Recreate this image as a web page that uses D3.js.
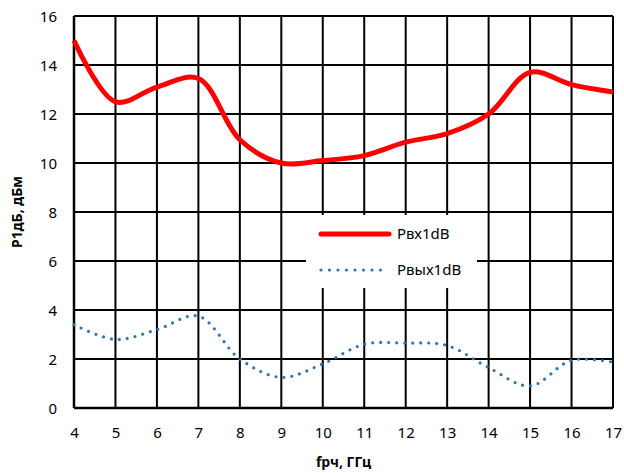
<!DOCTYPE html>
<html>
<head>
<meta charset="utf-8">
<script src="https://cdn.jsdelivr.net/npm/d3@7"></script>
<style>
body { margin: 0; background: #fff; }
</style>
</head>
<body>
<div id="chart"></div>
<script>
// frequency, GHz
var freq = [4, 5, 6, 7, 8, 9, 10, 11, 12, 13, 14, 15, 16, 17];
// input P1dB, dBm
var pIn = [15.0, 12.5, 13.1, 13.45, 10.95, 10.0, 10.1, 10.3, 10.85, 11.2, 12.0, 13.7, 13.2, 12.9];
// output P1dB, dBm
var pOut = [3.4, 2.8, 3.2, 3.75, 2.0, 1.25, 1.8, 2.6, 2.65, 2.55, 1.65, 0.9, 1.95, 1.87];
var xTicks = [4, 5, 6, 7, 8, 9, 10, 11, 12, 13, 14, 15, 16, 17];
var yTicks = [0, 2, 4, 6, 8, 10, 12, 14, 16];
var seriesNames = ["Рвх1dB", "Рвых1dB"];

function init(){

    var w = 624;
    var h = 473;
    var margin = {top: 16, right: 11, bottom: 65, left: 74};
    var font = "'Noto Sans', 'Open Sans', sans-serif";

    var xScale = d3.scaleLinear()
                    .domain([4, 17])
                    .range([margin.left, w - margin.right]);
    var yScale = d3.scaleLinear()
                    .domain([0, 16])
                    .range([h - margin.bottom, margin.top]);

    var svg = d3.select("#chart")
                .append("svg")
                .attr("width", w)
                .attr("height", h);

    //grid lines
    svg.append("g")
        .selectAll("line.v")
        .data(xTicks)
        .enter()
        .append("line")
        .attr("x1", function(d){ return xScale(d); })
        .attr("x2", function(d){ return xScale(d); })
        .attr("y1", yScale(0))
        .attr("y2", yScale(16))
        .attr("stroke", "#000")
        .attr("stroke-width", 2);

    svg.append("g")
        .selectAll("line.h")
        .data(yTicks)
        .enter()
        .append("line")
        .attr("x1", xScale(4))
        .attr("x2", xScale(17))
        .attr("y1", function(d){ return yScale(d); })
        .attr("y2", function(d){ return yScale(d); })
        .attr("stroke", "#000")
        .attr("stroke-width", 2);

    //axes (labels only, lines drawn above)
    var xAxis = d3.axisBottom(xScale).tickValues(xTicks).tickSize(0).tickPadding(0);
    var yAxis = d3.axisLeft(yScale).tickValues(yTicks).tickSize(0).tickPadding(0);

    var gx = svg.append("g")
        .attr("transform", "translate(0," + yScale(0) + ")")
        .call(xAxis);
    gx.select(".domain").remove();
    gx.selectAll("text")
        .attr("y", 30)
        .attr("dy", 0)
        .attr("font-family", font)
        .attr("font-size", "15px")
        .attr("fill", "#000");

    var gy = svg.append("g")
        .attr("transform", "translate(" + xScale(4) + ",0)")
        .call(yAxis);
    gy.select(".domain").remove();
    gy.selectAll("text")
        .attr("x", -17)
        .attr("dy", "0.35em")
        .attr("font-family", font)
        .attr("font-size", "15px")
        .attr("fill", "#000");

    //thicker left and bottom axis lines
    svg.append("line")
        .attr("x1", xScale(4)).attr("x2", xScale(4))
        .attr("y1", yScale(0)).attr("y2", yScale(16))
        .attr("stroke", "#000").attr("stroke-width", 2.5);
    svg.append("line")
        .attr("x1", xScale(4)).attr("x2", xScale(17))
        .attr("y1", yScale(0)).attr("y2", yScale(0))
        .attr("stroke", "#000").attr("stroke-width", 2.5);

    //legend box (covers the grid)
    svg.append("rect")
        .attr("x", 306)
        .attr("y", 215)
        .attr("width", 171)
        .attr("height", 73)
        .attr("fill", "#fff");

    var line = d3.line()
        .x(function(d){ return xScale(d[0]); })
        .y(function(d){ return yScale(d[1]); })
        .curve(d3.curveCatmullRom);

    svg.append("path")
        .datum(d3.zip(freq, pOut))
        .attr("d", line)
        .attr("fill", "none")
        .attr("stroke", "#2e75b6")
        .attr("stroke-width", 3.2)
        .attr("stroke-linecap", "round")
        .attr("stroke-dasharray", "0,8");

    svg.append("path")
        .datum(d3.zip(freq, pIn))
        .attr("d", line)
        .attr("fill", "none")
        .attr("stroke", "#ff0000")
        .attr("stroke-width", 5)
        .attr("stroke-linejoin", "round");

    //legend
    var legend = svg.append("g");
    legend.append("line")
        .attr("x1", 321).attr("x2", 389)
        .attr("y1", 234).attr("y2", 234)
        .attr("stroke", "#ff0000")
        .attr("stroke-width", 5)
        .attr("stroke-linecap", "round");
    legend.append("line")
        .attr("x1", 321).attr("x2", 389)
        .attr("y1", 270).attr("y2", 270)
        .attr("stroke", "#2e75b6")
        .attr("stroke-width", 3.2)
        .attr("stroke-linecap", "round")
        .attr("stroke-dasharray", "0,8.5");
    legend.selectAll("text")
        .data(seriesNames)
        .enter()
        .append("text")
        .attr("x", 397)
        .attr("y", function(d, i){ return 234 + i * 36; })
        .attr("dy", "0.35em")
        .attr("font-family", font)
        .attr("font-size", "15px")
        .attr("fill", "#000")
        .text(function(d){ return d; });

    //axis titles
    svg.append("text")
        .attr("x", (xScale(4) + xScale(17)) / 2)
        .attr("y", 467)
        .attr("text-anchor", "middle")
        .attr("font-family", font)
        .attr("font-size", "14px")
        .attr("font-weight", "bold")
        .text("fрч, ГГц");

    svg.append("text")
        .attr("transform", "translate(22," + (yScale(8)) + ") rotate(-90)")
        .attr("text-anchor", "middle")
        .attr("font-family", font)
        .attr("font-size", "14px")
        .attr("font-weight", "bold")
        .text("Р1дБ, дБм");
}

window.onload = init;
</script>
</body>
</html>
